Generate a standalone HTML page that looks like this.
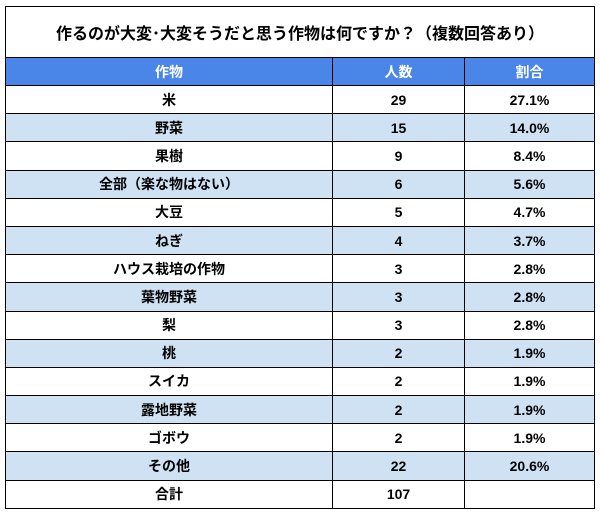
<!DOCTYPE html>
<html><head><meta charset="utf-8"><style>
body{margin:0;width:600px;height:515px;background:#fff;font-family:"Liberation Sans","Noto Sans CJK JP",sans-serif;}
table{position:absolute;left:5px;top:6px;border-collapse:collapse;width:590px;}
td,th{border:1px solid #000;text-align:center;font-weight:bold;font-size:14px;color:#000;padding:0;height:27.2px;}
.title td{height:50px;font-size:16px;border-bottom:1px solid #000;}
th{background:#4a86e8;color:#fff;height:27px;}
tr.alt td{background:#cfe2f3;}
</style></head><body>
<table>
<tr class="title"><td colspan="3">作るのが大変･大変そうだと思う作物は何ですか？（複数回答あり）</td></tr>
<tr><th style="width:326px">作物</th><th style="width:131px">人数</th><th>割合</th></tr>
<tbody id="rows"></tbody>
</table>
<script>
const crops=["米","野菜","果樹","全部（楽な物はない）","大豆","ねぎ","ハウス栽培の作物","葉物野菜","梨","桃","スイカ","露地野菜","ゴボウ","その他","合計"];
const counts=["29","15","9","6","5","4","3","3","3","2","2","2","2","22","107"];
const ratios=["27.1%","14.0%","8.4%","5.6%","4.7%","3.7%","2.8%","2.8%","2.8%","1.9%","1.9%","1.9%","1.9%","20.6%",""];
const tb=document.getElementById('rows');
crops.forEach((c,i)=>{
const tr=document.createElement('tr');


if(i%2===1)tr.className='alt';
[c,counts[i],ratios[i]].forEach((v,j)=>{
const td=document.createElement('td');


td.textContent=v;tr.appendChild(td);});
tb.appendChild(tr);});
</script>
</body></html>
